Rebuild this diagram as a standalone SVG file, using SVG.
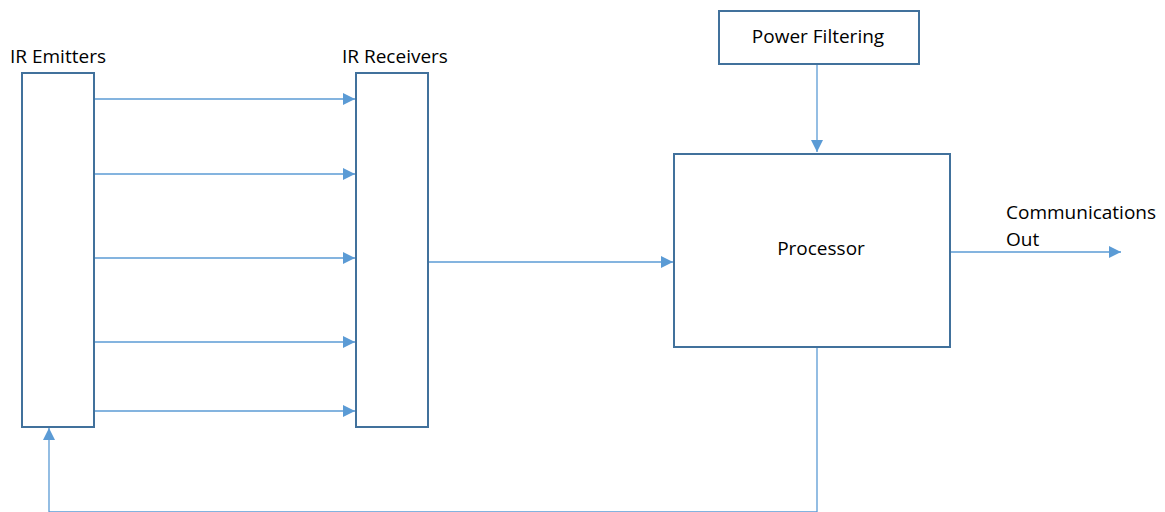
<svg xmlns="http://www.w3.org/2000/svg" width="1165" height="512" viewBox="0 0 1165 512">
<style>
.box{fill:#fff;stroke:#41719C;stroke-width:2}
.lbl{font-family:"Open Sans","Liberation Sans",sans-serif;font-size:19px;fill:#000}
.con{fill:none;stroke:#5B9BD5;stroke-width:1.3}
</style>
<defs>
<marker id="arr" viewBox="0 0 12 12" refX="12" refY="6" markerWidth="12" markerHeight="12" markerUnits="userSpaceOnUse" orient="auto">
<path d="M0,0 L12,6 L0,12 Z" fill="#5B9BD5"/>
</marker>
</defs>
<rect width="1165" height="512" fill="#fff"/>
<g id="connectors">
<line class="con" x1="94" y1="99" x2="355" y2="99" marker-end="url(#arr)"/>
<line class="con" x1="94" y1="174" x2="355" y2="174" marker-end="url(#arr)"/>
<line class="con" x1="94" y1="258" x2="355" y2="258" marker-end="url(#arr)"/>
<line class="con" x1="94" y1="342" x2="355" y2="342" marker-end="url(#arr)"/>
<line class="con" x1="94" y1="411" x2="355" y2="411" marker-end="url(#arr)"/>
<line class="con" x1="428" y1="262" x2="673" y2="262" marker-end="url(#arr)"/>
<line class="con" x1="817" y1="64" x2="817" y2="152" marker-end="url(#arr)"/>
<line class="con" x1="950" y1="252" x2="1121" y2="252" marker-end="url(#arr)"/>
<polyline class="con" points="817,347 817,511.8 49,511.8 49,428" marker-end="url(#arr)"/>
</g>
<g id="ir-emitters">
<rect class="box" x="22" y="73" width="72" height="354"/>
<text class="lbl" x="10" y="63">IR Emitters</text>
</g>
<g id="ir-receivers">
<rect class="box" x="356" y="73" width="72" height="354"/>
<text class="lbl" x="342" y="63">IR Receivers</text>
</g>
<g id="power-filtering">
<rect class="box" x="719" y="11" width="200" height="53"/>
<text class="lbl" x="818" y="43" text-anchor="middle">Power Filtering</text>
</g>
<g id="processor">
<rect class="box" x="674" y="154" width="276" height="193"/>
<text class="lbl" x="821" y="255" text-anchor="middle">Processor</text>
</g>
<g id="communications-out">
<text class="lbl" x="1006" y="219">Communications</text>
<text class="lbl" x="1006" y="246">Out</text>
</g>
</svg>
